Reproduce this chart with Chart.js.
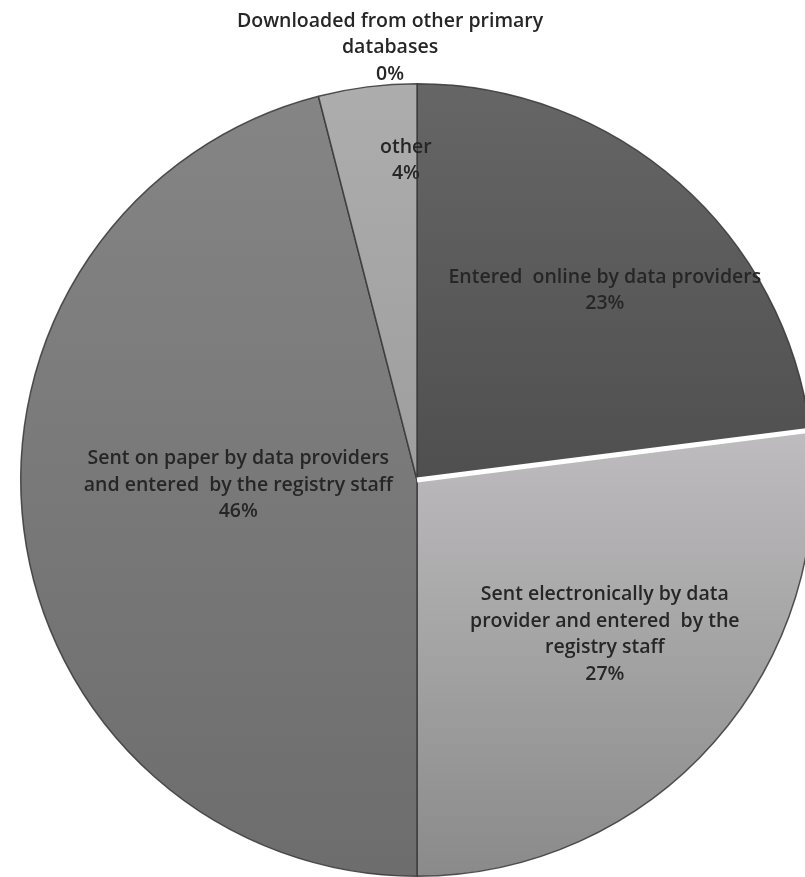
<!DOCTYPE html>
<html>
<head>
<meta charset="utf-8">
<script src="https://cdn.jsdelivr.net/npm/chart.js@4"></script>
<style>
  html, body { margin: 0; padding: 0; background: #fff; overflow: hidden; }
  #wrap { width: 805px; height: 877px; overflow: hidden; position: relative; }
  canvas { position: absolute; left: 0; top: 0; }
</style>
</head>
<body>
<div id="wrap"><canvas id="pie" width="850" height="900"></canvas></div>
<script>
// data, clockwise from 12 o'clock
const categories = [
  ["Entered  online by data providers"],
  ["Sent electronically by data", "provider and entered  by the", "registry staff"],
  ["Sent on paper by data providers", "and entered  by the registry staff"],
  ["Downloaded from other primary", "databases"],
  ["other"]
];
const shares = [23, 27, 46, 0, 4];

// gradient stops [offset over pie height, colour] for each slice
const shades = [
  [[0, "#666666"], [0.5, "#4f4f4f"]],
  [[0.44, "#bebcbe"], [1, "#8a8a8a"]],
  [[0, "#858585"], [1, "#6d6d6d"]],
  [[0, "#8a8a8a"], [1, "#7a7a7a"]],
  [[0, "#adadad"], [0.5, "#9e9e9e"]]
];

// label anchor relative to the pie centre, in radius units
const labelAnchor = [
  [0.474, -0.479],
  [0.474, 0.39],
  [-0.451, 0.013],
  [-0.068, -1.091],
  [-0.028, -0.806]
];

function sliceFill(ctx) {
  const chart = ctx.chart;
  const area = chart.chartArea;
  const stops = shades[ctx.dataIndex];
  if (!area) return stops[0][1];
  const g = chart.ctx.createLinearGradient(0, area.top, 0, area.bottom);
  stops.forEach(s => g.addColorStop(s[0], s[1]));
  return g;
}

const bevelAndLabels = {
  id: "bevelAndLabels",
  afterDatasetsDraw(chart) {
    const c = chart.ctx;
    const arcs = chart.getDatasetMeta(0).data;

    // white highlight along the edge between first two slices
    const a = arcs[1];
    c.save();
    c.strokeStyle = "#ffffff";
    c.lineWidth = 5;
    c.beginPath();
    c.moveTo(a.x, a.y);
    c.lineTo(a.x + a.outerRadius * Math.cos(a.startAngle),
             a.y + a.outerRadius * Math.sin(a.startAngle));
    c.stroke();
    c.restore();

    // data labels
    c.save();
    c.font = "600 19.5px 'Open Sans', sans-serif";
    c.fillStyle = "#262626";
    c.textAlign = "center";
    c.textBaseline = "middle";
    const lh = 26.5;
    arcs.forEach((arc, i) => {
      const lines = categories[i].concat([shares[i] + "%"]);
      const cx = arc.x + labelAnchor[i][0] * arc.outerRadius;
      const cy = arc.y + labelAnchor[i][1] * arc.outerRadius;
      const y0 = cy - (lines.length - 1) * lh / 2;
      lines.forEach((t, k) => c.fillText(t, cx, y0 + k * lh));
    });
    c.restore();
  }
};

new Chart(document.getElementById("pie"), {
  type: "pie",
  data: {
    labels: categories.map(l => l.join(" ")),
    datasets: [{
      data: shares,
      backgroundColor: sliceFill,
      borderColor: "rgba(55,55,55,0.85)",
      borderWidth: 1.5,
      hoverOffset: 0
    }]
  },
  options: {
    responsive: false,
    animation: false,
    events: [],
    layout: { padding: { left: 20, right: 36, top: 83, bottom: 23 } },
    plugins: { legend: { display: false }, tooltip: { enabled: false } }
  },
  plugins: [bevelAndLabels]
});
</script>
</body>
</html>
